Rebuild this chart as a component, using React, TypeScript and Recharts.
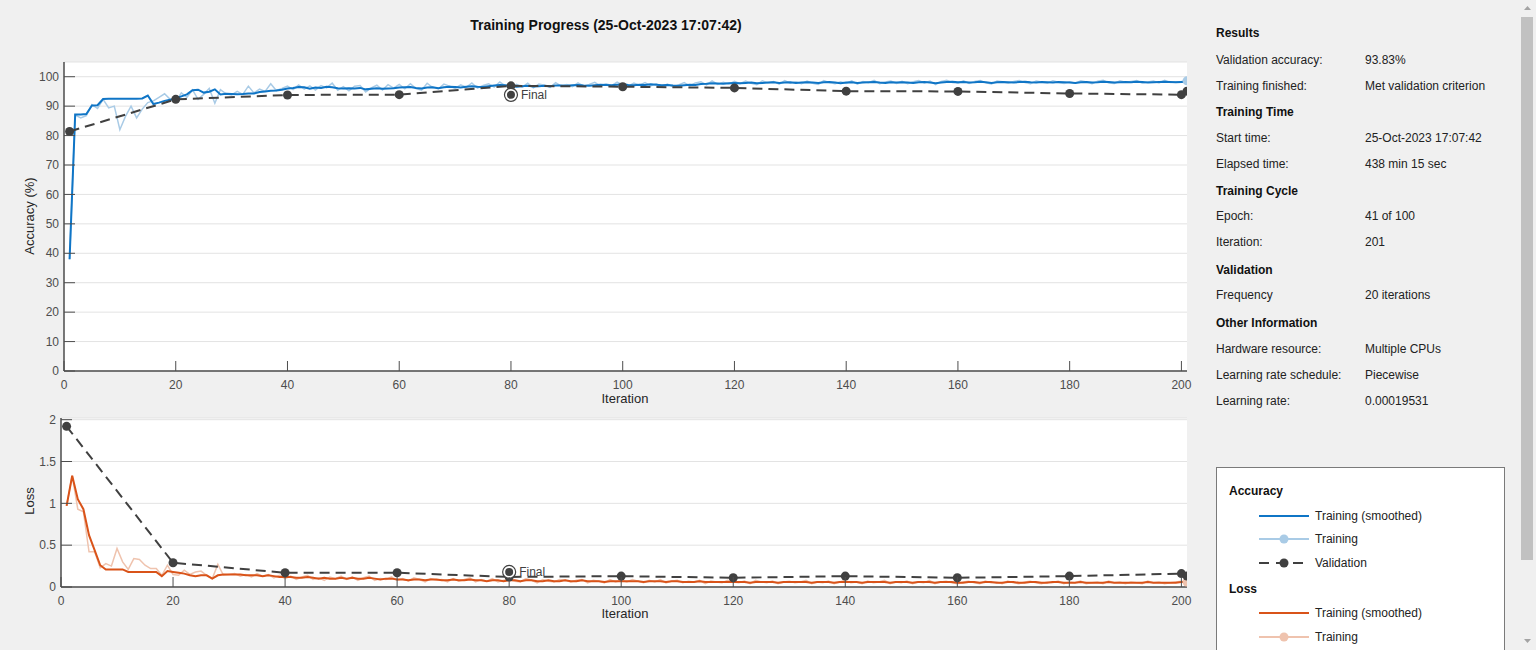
import React from 'react';
import { ComposedChart, Line, XAxis, YAxis, CartesianGrid, ReferenceDot } from 'recharts';

// iterations 1..201
const iterations = Array.from({ length: 201 }, (_, i) => i + 1);

const accSmoothed = [
  38, 87.2, 87.2, 87.3, 90.2, 90.3, 92.4, 92.5, 92.5, 92.5,
  92.5, 92.5, 92.5, 92.6, 93.6, 90.7, 91.2, 91.8, 92.2, 92.6,
  93.3, 94.0, 95.4, 95.6, 94.6, 94.9, 95.7, 94.0, 94.2, 94.1,
  94.0, 94.1, 94.3, 94.3, 94.8, 95.0, 95.2, 95.3, 95.6, 96.0,
  96.2, 96.5, 96.4, 95.9, 96.3, 96.2, 96.6, 96.4, 96.1, 96.0,
  96.1, 96.0, 96.2, 95.7, 95.9, 96.1, 95.9, 96.0, 96.1, 96.3,
  96.4, 96.5, 96.2, 96.0, 96.3, 96.4, 96.1, 96.4, 96.6, 96.5,
  96.3, 96.6, 96.8, 96.6, 96.5, 96.8, 97.0, 97.2, 97.1, 96.8,
  96.6, 96.8, 96.9, 96.7, 96.8, 96.9, 96.8, 97.0, 97.0, 96.9,
  97.1, 97.2, 97.0, 96.9, 97.1, 97.3, 97.2, 97.1, 97.3, 97.4,
  97.2, 97.1, 97.3, 97.2, 97.4, 97.3, 97.1, 97.2, 97.0, 96.9,
  97.1, 97.3, 97.2, 97.5, 97.6, 97.8, 97.7, 97.6, 97.8, 97.9,
  97.8, 97.9, 98.0, 97.8, 97.9, 98.0, 98.1, 97.9, 98.0, 98.1,
  97.9, 98.0, 98.1, 98.0, 97.9, 98.1, 98.2, 98.0, 97.8, 98.0,
  98.1, 97.9, 98.0, 98.1, 98.2, 98.0, 97.9, 98.1, 98.0, 98.1,
  98.0, 97.9, 98.1, 98.2, 98.0, 97.8, 98.0, 98.2, 98.3, 98.1,
  98.2, 98.0, 98.1, 98.3, 98.1, 97.9, 98.1, 98.2, 98.1, 98.0,
  98.2, 98.3, 98.1, 98.0, 98.2, 98.1, 98.0, 98.2, 98.1, 98.0,
  97.9, 98.1, 98.2, 98.0, 98.1, 98.3, 98.2, 98.0, 98.1, 98.2,
  98.1, 98.3, 98.2, 98.0, 98.1, 98.2, 98.3, 98.2, 98.1, 98.2,
  98.3,
];

const accTraining = [
  38, 87.0, 86.0, 86.8, 90.5, 89.2, 92.3, 89.4, 90.0, 82.0,
  86.5, 90.0, 86.0, 89.0, 91.2, 91.8, 93.0, 94.2, 92.3, 91.5,
  94.5, 93.0, 95.5, 92.3, 94.0, 96.0, 91.0, 95.6, 94.2, 93.8,
  95.0, 94.0, 96.8, 94.5, 95.8, 95.0, 97.6, 95.3, 96.0, 96.8,
  95.6, 97.2, 95.8, 96.9, 95.5, 97.0, 96.2, 97.8, 95.4, 96.6,
  95.2, 96.8, 97.0, 94.8, 96.2, 97.1, 95.5, 97.3, 96.1, 97.4,
  95.9, 97.6, 96.0, 95.4, 97.8, 96.3, 95.9, 97.5, 96.8, 96.0,
  97.2, 96.4, 97.9, 96.1, 97.0, 97.6, 96.5, 98.2, 96.9, 96.3,
  97.4, 96.5, 97.8, 96.2, 97.5, 97.1, 96.4, 98.0, 96.8, 97.3,
  96.6, 97.9, 96.8, 97.4, 98.1, 96.9, 97.6, 97.0, 98.2, 97.2,
  96.8, 97.8, 97.1, 98.0, 96.9, 97.6, 96.7, 97.5, 96.5, 97.2,
  98.0, 96.9, 97.9, 98.3, 97.2, 98.6, 97.4, 98.1, 97.5, 98.4,
  97.6, 98.5, 97.8, 97.3, 98.6, 97.9, 98.4, 97.5, 98.7, 97.8,
  98.3, 97.6, 98.5, 97.8, 97.4, 98.7, 98.0, 97.6, 98.3, 97.7,
  98.6, 97.5, 98.4, 98.0, 98.8, 97.6, 98.2, 98.5, 97.7, 98.4,
  97.6, 98.3, 98.7, 97.9, 98.5, 97.3, 98.4, 98.8, 98.0, 97.8,
  98.6, 97.7, 98.4, 98.7, 97.9, 97.5, 98.5, 98.3, 97.8, 98.4,
  98.7, 98.0, 97.6, 98.5, 98.2, 97.8, 98.6, 98.1, 97.7, 98.3,
  97.8, 98.6, 98.2, 97.6, 98.5, 98.8, 97.9, 97.7, 98.6, 98.1,
  98.4, 98.7, 97.8, 98.2, 98.5, 97.9, 98.8, 98.0, 98.3, 98.4,
  98.6,
];

const lossSmoothed = [
  0.97, 1.33, 1.05, 0.93, 0.62, 0.44, 0.26, 0.21, 0.21, 0.21,
  0.21, 0.18, 0.18, 0.18, 0.18, 0.18, 0.18, 0.13, 0.19, 0.18,
  0.17, 0.16, 0.14, 0.13, 0.14, 0.14, 0.10, 0.14, 0.15, 0.15,
  0.15, 0.15, 0.14, 0.14, 0.14, 0.13, 0.14, 0.13, 0.12, 0.12,
  0.12, 0.11, 0.11, 0.12, 0.11, 0.10, 0.11, 0.10, 0.10, 0.11,
  0.10, 0.11, 0.10, 0.10, 0.11, 0.10, 0.09, 0.10, 0.10, 0.09,
  0.09, 0.08, 0.09, 0.09, 0.08, 0.09, 0.09, 0.08, 0.08, 0.09,
  0.08, 0.08, 0.09, 0.08, 0.08, 0.07, 0.08, 0.08, 0.07, 0.08,
  0.08, 0.07, 0.08, 0.08, 0.07, 0.07, 0.08, 0.07, 0.07, 0.08,
  0.07, 0.07, 0.08, 0.07, 0.07, 0.07, 0.06, 0.07, 0.07, 0.07,
  0.07, 0.07, 0.07, 0.06, 0.07, 0.07, 0.07, 0.06, 0.07, 0.07,
  0.06, 0.06, 0.06, 0.07, 0.06, 0.06, 0.06, 0.06, 0.06, 0.06,
  0.06, 0.06, 0.05, 0.06, 0.06, 0.06, 0.06, 0.05, 0.06, 0.06,
  0.06, 0.06, 0.06, 0.05, 0.06, 0.06, 0.06, 0.05, 0.06, 0.06,
  0.06, 0.06, 0.05, 0.06, 0.06, 0.06, 0.06, 0.05, 0.06, 0.06,
  0.06, 0.05, 0.06, 0.06, 0.06, 0.05, 0.06, 0.06, 0.06, 0.05,
  0.05, 0.06, 0.06, 0.05, 0.06, 0.06, 0.05, 0.05, 0.06, 0.06,
  0.05, 0.05, 0.06, 0.06, 0.05, 0.05, 0.06, 0.06, 0.05, 0.05,
  0.05, 0.06, 0.05, 0.05, 0.05, 0.05, 0.06, 0.05, 0.05, 0.05,
  0.05, 0.05, 0.05, 0.06, 0.05, 0.05, 0.05, 0.05, 0.05, 0.06,
  0.06,
];

const lossTraining = [
  0.97, 1.33, 0.93, 0.90, 0.42, 0.42, 0.23, 0.28, 0.25, 0.46,
  0.30, 0.21, 0.34, 0.33, 0.26, 0.22, 0.22, 0.14, 0.26, 0.15,
  0.14, 0.20, 0.15, 0.18, 0.19, 0.14, 0.10, 0.27, 0.14, 0.15,
  0.16, 0.13, 0.15, 0.12, 0.16, 0.13, 0.15, 0.11, 0.14, 0.10,
  0.13, 0.09, 0.12, 0.14, 0.09, 0.11, 0.08, 0.12, 0.10, 0.13,
  0.09, 0.12, 0.08, 0.11, 0.13, 0.08, 0.10, 0.09, 0.12, 0.08,
  0.10, 0.07, 0.11, 0.09, 0.06, 0.10, 0.08, 0.09, 0.06, 0.10,
  0.07, 0.09, 0.11, 0.06, 0.09, 0.07, 0.10, 0.06, 0.08, 0.09,
  0.07, 0.06, 0.10, 0.08, 0.05, 0.09, 0.07, 0.06, 0.09, 0.08,
  0.06, 0.08, 0.09, 0.05, 0.08, 0.07, 0.05, 0.09, 0.06, 0.08,
  0.06, 0.09, 0.07, 0.05, 0.08, 0.06, 0.09, 0.05, 0.07, 0.08,
  0.05, 0.07, 0.06, 0.08, 0.04, 0.07, 0.06, 0.05, 0.08, 0.06,
  0.05, 0.07, 0.04, 0.08, 0.06, 0.05, 0.07, 0.04, 0.06, 0.07,
  0.05, 0.06, 0.08, 0.04, 0.06, 0.05, 0.07, 0.04, 0.06, 0.08,
  0.05, 0.06, 0.04, 0.07, 0.05, 0.06, 0.08, 0.04, 0.06, 0.05,
  0.07, 0.04, 0.06, 0.05, 0.08, 0.04, 0.06, 0.07, 0.05, 0.04,
  0.06, 0.07, 0.05, 0.04, 0.07, 0.05, 0.06, 0.04, 0.07, 0.05,
  0.04, 0.06, 0.07, 0.05, 0.04, 0.06, 0.05, 0.07, 0.04, 0.06,
  0.05, 0.07, 0.04, 0.05, 0.06, 0.04, 0.07, 0.05, 0.06, 0.04,
  0.06, 0.05, 0.04, 0.07, 0.05, 0.06, 0.04, 0.05, 0.06, 0.07,
  0.06,
];

const valIterations = [1, 20, 40, 60, 80, 100, 120, 140, 160, 180, 200, 201];
const valAccuracy = [81.4, 92.3, 93.8, 93.9, 96.9, 96.6, 96.2, 95.1, 95.0, 94.3, 93.9, 95.1];
const valLoss = [1.92, 0.29, 0.17, 0.17, 0.12, 0.13, 0.11, 0.13, 0.11, 0.13, 0.16, 0.13];

const finalIteration = 80;
const finalAccuracy = 93.83;
const finalLoss = 0.18;

const xTicks = [0, 20, 40, 60, 80, 100, 120, 140, 160, 180, 200];
const accTicks = [0, 10, 20, 30, 40, 50, 60, 70, 80, 90, 100];
const lossTicks = [0, 0.5, 1, 1.5, 2];

const infoRows: [string, string, boolean][] = [
  ['Results', '', true],
  ['Validation accuracy:', '93.83%', false],
  ['Training finished:', 'Met validation criterion', false],
  ['Training Time', '', true],
  ['Start time:', '25-Oct-2023 17:07:42', false],
  ['Elapsed time:', '438 min 15 sec', false],
  ['Training Cycle', '', true],
  ['Epoch:', '41 of 100', false],
  ['Iteration:', '201', false],
  ['Validation', '', true],
  ['Frequency', '20 iterations', false],
  ['Other Information', '', true],
  ['Hardware resource:', 'Multiple CPUs', false],
  ['Learning rate schedule:', 'Piecewise', false],
  ['Learning rate:', '0.00019531', false],
];
const infoY = [33, 60, 86, 112, 138, 164, 191, 216, 242, 270, 295, 323, 349, 375, 401];

const FONT = "'Liberation Sans', Arial, sans-serif";
const BLUE = '#0f75c6';
const LIGHT_BLUE = '#a9cbe6';
const ORANGE = '#d95319';
const LIGHT_ORANGE = '#efc3ae';
const DARK = '#404040';
const AXIS = '#4d4d4d';

const trainAccData = iterations.map((it, i) => ({ it, smooth: accSmoothed[i], raw: accTraining[i] }));
const trainLossData = iterations.map((it, i) => ({ it, smooth: lossSmoothed[i], raw: lossTraining[i] }));
const valAccData = valIterations.map((it, i) => ({ it, val: valAccuracy[i] }));
const valLossData = valIterations.map((it, i) => ({ it, val: valLoss[i] }));

const YTick = ({ x, y, payload }: any) => (
  <g>
    <line x1={x + 5} y1={y} x2={x + 16} y2={y} stroke={AXIS} strokeWidth={1} />
    <text x={x} y={y} dy="0.35em" textAnchor="end" fill={AXIS} fontSize={12} fontFamily={FONT}>
      {payload.value}
    </text>
  </g>
);

const XTick = ({ x, y, payload }: any) => (
  <g>
    <line x1={x} y1={y - 7} x2={x} y2={y - 17} stroke={AXIS} strokeWidth={1} />
    <text x={x} y={y} dy="0.9em" textAnchor="middle" fill={AXIS} fontSize={12} fontFamily={FONT}>
      {payload.value}
    </text>
  </g>
);

const lastDot = (color: string, total: number) => (props: any) => {
  const { cx, cy, index } = props;
  if (index !== total - 1) return <circle key={`d-${index}`} cx={cx} cy={cy} r={0} />;
  return <circle key={`d-${index}`} cx={cx} cy={cy} r={4.5} fill={color} stroke="none" />;
};

const FinalMarker = ({ cx, cy }: any) => (
  <g>
    <circle cx={cx} cy={cy} r={6.5} fill="#fff" stroke={DARK} strokeWidth={1.2} />
    <circle cx={cx} cy={cy} r={4} fill={DARK} />
    <text x={cx + 10} y={cy} dy="0.35em" fill={DARK} fontSize={12} fontFamily={FONT}>
      Final
    </text>
  </g>
);

const LegendSwatch = ({ color, marker, dashed }: { color: string; marker?: boolean; dashed?: boolean }) => (
  <svg width={52} height={12} style={{ position: 'absolute', left: 1258, marginTop: -6 }}>
    <line x1={1} y1={6} x2={51} y2={6} stroke={color} strokeWidth={dashed ? 2 : 1.8} strokeDasharray={dashed ? '10 7' : undefined} />
    {marker && <circle cx={26} cy={6} r={4.5} fill={color} />}
  </svg>
);

const legendRows = [
  { y: 491, head: 'Accuracy' },
  { y: 516, label: 'Training (smoothed)', color: BLUE },
  { y: 539, label: 'Training', color: LIGHT_BLUE, marker: true },
  { y: 563, label: 'Validation', color: DARK, marker: true, dashed: true },
  { y: 589, head: 'Loss' },
  { y: 613, label: 'Training (smoothed)', color: ORANGE },
  { y: 637, label: 'Training', color: LIGHT_ORANGE, marker: true },
];

const text = (x: number, y: number, s: string, extra: React.CSSProperties = {}) => (
  <div style={{ position: 'absolute', left: x, top: y - 8, lineHeight: '16px', whiteSpace: 'nowrap', ...extra }}>{s}</div>
);

export default function App() {
  return (
    <div style={{ position: 'relative', width: 1536, height: 650, background: '#f0f0f0', overflow: 'hidden', fontFamily: FONT, color: '#1a1a1a' }}>
      <style>{'body{margin:0}'}</style>

      {text(0, 25, 'Training Progress (25-Oct-2023 17:07:42)', { width: 1212, textAlign: 'center', fontWeight: 'bold', fontSize: 14, color: '#111' })}

      <div style={{ position: 'absolute', left: 0, top: 0 }}>
        <ComposedChart width={1200} height={420} data={trainAccData} margin={{ top: 62, right: 13, bottom: 19, left: 24 }}>
          <CartesianGrid vertical={false} stroke="#e3e3e3" fill="#ffffff" />
          <XAxis dataKey="it" type="number" domain={[0, 201]} ticks={xTicks} interval={0} height={30}
            tick={<XTick />} tickLine={false} tickSize={0} tickMargin={7} axisLine={{ stroke: AXIS, strokeWidth: 1.5 }} allowDataOverflow />
          <YAxis type="number" domain={[0, 105]} ticks={accTicks} interval={0} width={40}
            tick={<YTick />} tickLine={false} tickSize={0} tickMargin={5} axisLine={{ stroke: AXIS, strokeWidth: 1.5 }} allowDataOverflow />
          <Line dataKey="raw" type="linear" stroke={LIGHT_BLUE} strokeWidth={1.5} dot={lastDot(LIGHT_BLUE, trainAccData.length)} activeDot={false} isAnimationActive={false} />
          <Line dataKey="smooth" type="linear" stroke={BLUE} strokeWidth={2} dot={false} activeDot={false} isAnimationActive={false} />
          <Line data={valAccData} dataKey="val" type="linear" stroke={DARK} strokeWidth={2} strokeDasharray="10 6"
            dot={{ r: 4.5, fill: DARK, stroke: 'none', strokeDasharray: '' }} activeDot={false} isAnimationActive={false} />
          <ReferenceDot x={finalIteration} y={finalAccuracy} shape={<FinalMarker />} />
        </ComposedChart>
      </div>

      <div style={{ position: 'absolute', left: 0, top: 380 }}>
        <ComposedChart width={1200} height={260} data={trainLossData} margin={{ top: 38, right: 13, bottom: 23, left: 21 }}>
          <CartesianGrid vertical={false} stroke="#e3e3e3" fill="#ffffff" />
          <XAxis dataKey="it" type="number" domain={[0, 201]} ticks={xTicks} interval={0} height={30}
            tick={<XTick />} tickLine={false} tickSize={0} tickMargin={7} axisLine={{ stroke: AXIS, strokeWidth: 1.5 }} allowDataOverflow />
          <YAxis type="number" domain={[0, 2.02]} ticks={lossTicks} interval={0} width={40}
            tick={<YTick />} tickLine={false} tickSize={0} tickMargin={5} axisLine={{ stroke: AXIS, strokeWidth: 1.5 }} allowDataOverflow />
          <Line dataKey="raw" type="linear" stroke={LIGHT_ORANGE} strokeWidth={1.5} dot={lastDot(LIGHT_ORANGE, trainLossData.length)} activeDot={false} isAnimationActive={false} />
          <Line dataKey="smooth" type="linear" stroke={ORANGE} strokeWidth={2} dot={false} activeDot={false} isAnimationActive={false} />
          <Line data={valLossData} dataKey="val" type="linear" stroke={DARK} strokeWidth={2} strokeDasharray="10 6"
            dot={{ r: 4.5, fill: DARK, stroke: 'none', strokeDasharray: '' }} activeDot={false} isAnimationActive={false} />
          <ReferenceDot x={finalIteration} y={finalLoss} shape={<FinalMarker />} />
        </ComposedChart>
      </div>

      {text(0, 399, 'Iteration', { width: 1250, textAlign: 'center', fontSize: 13, color: '#262626' })}
      {text(0, 614, 'Iteration', { width: 1250, textAlign: 'center', fontSize: 13, color: '#262626' })}
      <div style={{ position: 'absolute', left: 29, top: 216, transform: 'translate(-50%, -50%) rotate(-90deg)', fontSize: 13, color: '#262626', whiteSpace: 'nowrap' }}>Accuracy (%)</div>
      <div style={{ position: 'absolute', left: 29, top: 501, transform: 'translate(-50%, -50%) rotate(-90deg)', fontSize: 13, color: '#262626', whiteSpace: 'nowrap' }}>Loss</div>

      {infoRows.map(([label, value, head], i) => (
        <React.Fragment key={label}>
          {text(1216, infoY[i], label, { fontSize: 12, fontWeight: head ? 'bold' : 'normal', color: head ? '#111' : '#222' })}
          {value && text(1365, infoY[i], value, { fontSize: 12, color: '#222' })}
        </React.Fragment>
      ))}

      <div style={{ position: 'absolute', left: 1216, top: 467, width: 287, height: 200, background: '#fff', border: '1px solid #7a7a7a' }} />
      {legendRows.map((r, i) => (
        <React.Fragment key={i}>
          {r.head
            ? text(1229, r.y, r.head, { fontSize: 12, fontWeight: 'bold', color: '#111' })
            : (
              <>
                <div style={{ position: 'absolute', top: r.y }}>
                  <LegendSwatch color={r.color!} marker={r.marker} dashed={r.dashed} />
                </div>
                {text(1315, r.y, r.label!, { fontSize: 12, color: '#222' })}
              </>
            )}
        </React.Fragment>
      ))}

      <div style={{ position: 'absolute', left: 1519, top: 0, width: 17, height: 650, background: '#f0f0f0' }} />
      <div style={{ position: 'absolute', left: 1521, top: 17, width: 12, height: 543, background: '#c1c1c1' }} />
      <svg style={{ position: 'absolute', left: 1519, top: 0 }} width={17} height={650}>
        <polygon points="5,10 12,10 8.5,6" fill="#a3a3a3" />
        <polygon points="5,639 12,639 8.5,643" fill="#a3a3a3" />
      </svg>
    </div>
  );
}
